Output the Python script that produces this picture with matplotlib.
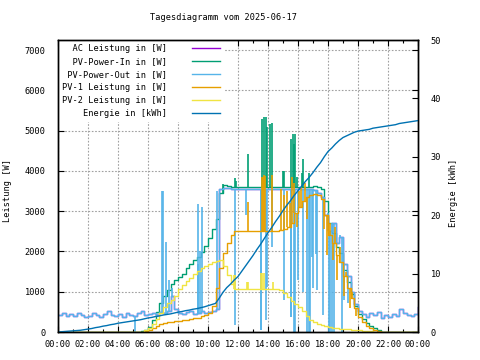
import matplotlib
matplotlib.use("Agg")
import matplotlib.pyplot as plt
import numpy as np

plt.rcParams["font.family"] = "DejaVu Sans Mono"
plt.rcParams["font.size"] = 6.2

# sample times: every 15 minutes over the day (hours)
hours = np.arange(0, 24.25, 0.25)

x_ticks = [0, 2, 4, 6, 8, 10, 12, 14, 16, 18, 20, 22, 24]
x_labels = ["00:00", "02:00", "04:00", "06:00", "08:00", "10:00", "12:00",
            "14:00", "16:00", "18:00", "20:00", "22:00", "00:00"]
w_ticks = [0, 1000, 2000, 3000, 4000, 5000, 6000, 7000]
kwh_ticks = [0, 10, 20, 30, 40, 50]

labels = ["AC Leistung in [W]", "PV-Power-In in [W]", "PV-Power-Out in [W]",
          "PV-1 Leistung in [W]", "PV-2 Leistung in [W]", "Energie in [kWh]"]

pv_out = [420, 470, 400, 450, 390, 470, 430, 370,
          400, 460, 420, 380, 450, 520, 430, 390,
          440, 380, 480, 430, 400, 460, 510, 420,
          450, 470, 430, 500, 480, 520, 900, 560,
          470, 450, 490, 520, 440, 480, 510, 470,
          500, 520, 560, 3560, 3580, 3570, 3560, 3550,
          3560, 3560, 3560, 3560, 3560, 3560, 3560, 3560,
          3560, 3560, 3560, 3560, 3560, 3560, 3560, 3560,
          3560, 3560, 3560, 3550, 3520, 3450, 3350, 2900,
          2500, 2700, 2200, 2350, 1700, 1400, 1000, 700,
          520, 450, 380, 470, 420, 500, 360, 420,
          380, 450, 400, 560, 480, 420, 400, 450,
          620]
pv_out_spk_t = [5.1, 6.95, 7.02, 7.22, 7.4, 7.6, 9.3, 9.36, 9.45, 9.62, 10.62,
                11.82, 12.55, 13.5, 13.55, 13.86, 13.92, 14.25, 15.07, 15.5,
                15.56, 15.72, 15.78, 16.0, 16.3, 16.62, 16.7, 16.78, 16.9,
                16.98, 17.2, 17.29, 17.69, 18.0, 18.05, 18.15, 18.25, 18.4,
                18.8, 18.9, 19.05, 19.33]
pv_out_spk_v = [0, 3510, 3510, 2230, 1300, 1100, 1700, 3180, 2000, 3100, 3510,
                170, 2900, 50, 50, 300, 1120, 2110, 790, 380,
                380, 0, 0, 1290, 1000, 0, 0, 0, 1860,
                1100, 1930, 1040, 420, 2950, 0, 0, 0, 0,
                2400, 0, 800, 710]

pv_in = [0, 0, 0, 0, 0, 0, 0, 0,
         0, 0, 0, 0, 0, 0, 0, 0,
         0, 0, 0, 0, 0, 0, 20, 60,
         130, 300, 500, 730, 900, 1050, 1200, 1300,
         1370, 1450, 1580, 1680, 1780, 1860, 1980, 2130,
         2330, 2550, 2800, 3450, 3660, 3620, 3610, 3600,
         3600, 3600, 3600, 3600, 3600, 3600, 3600, 3600,
         3600, 3600, 3600, 3600, 3600, 3600, 3600, 3600,
         3600, 3600, 3600, 3610, 3620, 3600, 3560, 3250,
         2700, 2450, 2100, 1950, 1550, 1250, 950, 650,
         450, 320, 220, 150, 90, 40, 10, 0,
         0, 0, 0, 0, 0, 0, 0, 0,
         0]
pv_in_spk_t = [10.98, 11.8, 11.87, 12.69, 13.62, 13.76, 13.84, 13.91, 14.13,
               14.29, 15.02, 15.09, 15.53, 15.64, 15.73, 15.8, 15.96, 16.24,
               16.36, 16.7]
pv_in_spk_v = [3680, 3825, 3760, 4420, 5285, 5340, 5340, 5080, 5170,
               5180, 4000, 4000, 4790, 4910, 4670, 4920, 3840, 3960,
               4300, 3960]

pv1 = [0, 0, 0, 0, 0, 0, 0, 0,
       0, 0, 0, 0, 0, 0, 0, 0,
       0, 0, 0, 0, 0, 0, 0, 20,
       40, 90, 160, 200, 230, 245, 255, 270,
       285, 295, 310, 330, 345, 360, 385, 420,
       460, 650, 1100, 1600, 1950, 2200, 2420, 2520,
       2520, 2520, 2520, 2520, 2520, 2520, 2520, 2520,
       2520, 2520, 2520, 2540, 2560, 2600, 2700, 2950,
       3100, 3250, 3350, 3400, 3430, 3400, 3300, 2900,
       2400, 2200, 1900, 1750, 1400, 1100, 850, 600,
       380, 250, 150, 90, 50, 25, 10, 0,
       0, 0, 0, 0, 0, 0, 0, 0,
       0]
pv1_spk_t = [12.69, 13.6, 13.66, 13.72, 13.8, 14.29, 14.85, 15.05, 15.25,
             15.45, 15.6, 15.75, 15.9, 16.05, 16.2, 16.45, 16.6, 17.72,
             17.95, 18.1, 18.3, 18.45, 18.6, 18.8, 19.05, 19.2, 19.45,
             19.6, 19.85]
pv1_spk_v = [3220, 3840, 3850, 3900, 3880, 3890, 3560, 3400, 3500,
             3200, 3850, 3700, 2600, 3500, 3600, 3700, 2800, 2550,
             1900, 2700, 1800, 2600, 1300, 2100, 900, 1500, 600,
             1000, 400]

pv2 = [0, 0, 0, 0, 0, 0, 0, 0,
       0, 0, 0, 0, 0, 0, 0, 0,
       0, 0, 0, 0, 0, 0, 0, 40,
       90, 200, 330, 480, 620, 720, 800, 900,
       1060, 1160, 1260, 1350, 1440, 1520, 1580, 1640,
       1700, 1730, 1770, 1780, 1650, 1420, 1180, 1080,
       1070, 1070, 1070, 1070, 1070, 1070, 1070, 1070,
       1070, 1070, 1060, 1040, 960, 870, 780, 700,
       620, 520, 400, 300, 250, 210, 180, 150,
       130, 110, 90, 80, 70, 65, 60, 50,
       40, 35, 30, 30, 0, 0, 0, 0,
       0, 0, 0, 0, 0, 0, 0, 0,
       0]
pv2_spk_t = [11.75, 11.8, 12.6, 12.68, 13.5, 13.58, 13.75, 14.3]
pv2_spk_v = [1410, 1410, 1250, 1250, 1460, 1460, 1460, 1250]

energy = [0.0, 0.05, 0.1, 0.15, 0.2, 0.25, 0.3, 0.4,
          0.5, 0.6, 0.75, 0.85, 1.0, 1.1, 1.25, 1.35,
          1.5, 1.6, 1.7, 1.8, 1.9, 2.0, 2.1, 2.25,
          2.4, 2.5, 2.65, 2.75, 2.9, 3.0, 3.1, 3.25,
          3.4, 3.5, 3.65, 3.75, 3.9, 4.0, 4.15, 4.3,
          4.5, 4.7, 4.9, 5.8, 6.8, 7.6, 8.2, 8.9,
          9.5, 10.4, 11.3, 12.2, 13.1, 14.1, 15.0, 16.0,
          17.0, 17.9, 18.9, 19.8, 20.8, 21.7, 22.5, 23.4,
          24.2, 25.0, 25.8, 26.5, 27.3, 28.2, 29.0, 30.0,
          30.9, 31.5, 32.2, 32.8, 33.3, 33.6, 33.9, 34.2,
          34.4, 34.5, 34.6, 34.7, 34.9, 35.0, 35.1, 35.2,
          35.3, 35.4, 35.5, 35.7, 35.8, 35.9, 36.0, 36.1,
          36.2]

# AC output is essentially the inverter output, drawn underneath
ac_power = pv_out

colors = ["#9400d3", "#009e73", "#56b4e9", "#e69f00", "#f0e442", "#0072b2"]


def spikes(ax, t_spk, v_spk, values, color, z):
    # short peaks between samples, drawn from the step value at that time
    base = np.asarray(values)[np.searchsorted(hours, t_spk, side="right") - 1]
    ax.vlines(t_spk, base, v_spk, colors=color, lw=1.2, zorder=z)


fig = plt.figure(figsize=(4.8, 3.6), dpi=100)
ax = fig.add_axes([58 / 480, 28 / 360, 360 / 480, 292 / 360])
ax2 = ax.twinx()

series = [ac_power, pv_in, pv_out, pv1, pv2]
spk = [(None, None), (pv_in_spk_t, pv_in_spk_v), (pv_out_spk_t, pv_out_spk_v),
       (pv1_spk_t, pv1_spk_v), (pv2_spk_t, pv2_spk_v)]
handles = []
for i, vals in enumerate(series):
    z = 1.1 + 0.1 * i
    h = ax.plot(hours, vals, drawstyle="steps-post", color=colors[i],
                lw=1.0, zorder=z)[0]
    handles.append(h)
    if spk[i][0] is not None:
        spikes(ax, spk[i][0], spk[i][1], vals, colors[i], z)

h = ax2.plot(hours, energy, color=colors[5], lw=1.0)[0]
handles.append(h)

ax.set_xlim(0, 24)
ax.set_ylim(0, 7250)
ax2.set_ylim(0, 50)

ax.set_xticks(x_ticks)
ax.set_xticklabels(x_labels)
ax.set_xticks(range(0, 25), minor=True)
ax.set_yticks(w_ticks)
ax2.set_yticks(kwh_ticks)

ax.grid(True, color="#a0a0a0", lw=0.8, linestyle=(0, (1.5, 1.5)))
ax.set_axisbelow(True)

ax.tick_params(which="both", direction="in", top=True, right=True)
ax.tick_params(which="major", length=4, width=0.8)
ax.tick_params(which="minor", length=2.5, width=0.8)
ax.tick_params(axis="y", pad=9)
ax.tick_params(axis="x", pad=6)
ax2.tick_params(direction="in", length=4, width=0.8, pad=9)
for a in (ax, ax2):
    for s in a.spines.values():
        s.set_linewidth(1.0)

fig.text(223 / 480, 1 - 18 / 360, "Tagesdiagramm vom 2025-06-17",
         ha="center", va="center")
fig.text(8 / 480, 1 - 191 / 360, "Leistung [W]", rotation=90,
         ha="center", va="center")
fig.text(453 / 480, 1 - 193 / 360, "Energie [kWh]", rotation=90,
         ha="center", va="center")

# monospace font: pad labels so they line up on the right like gnuplot
width = max(len(s) for s in labels)
leg = ax.legend(handles, [s.rjust(width) for s in labels], loc="upper left",
                bbox_to_anchor=(0, 1), borderaxespad=0, borderpad=0.5,
                markerfirst=False, handlelength=3.25, handletextpad=2.9,
                labelspacing=0.46, frameon=True, fancybox=False)
leg.get_frame().set_edgecolor("none")
leg.get_frame().set_facecolor("white")
leg.get_frame().set_alpha(1.0)
leg.set_zorder(2.2)

fig.savefig("out.png", dpi=100)
